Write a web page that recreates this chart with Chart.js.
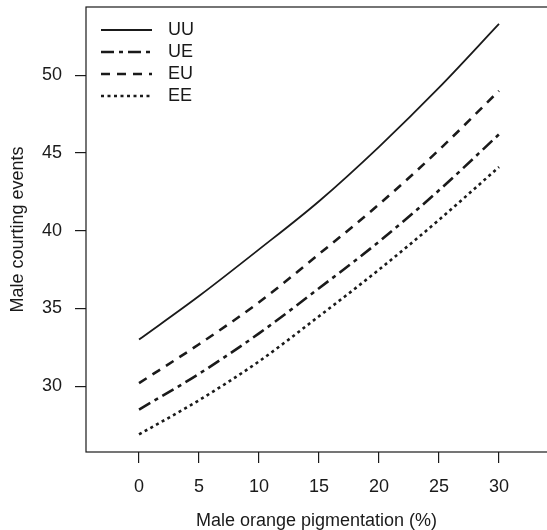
<!DOCTYPE html>
<html>
<head>
<meta charset="utf-8">
<script src="https://cdn.jsdelivr.net/npm/chart.js@4/dist/chart.umd.min.js"></script>
<style>
  html, body { margin: 0; padding: 0; background: #fff; overflow: hidden; }
</style>
</head>
<body>
<canvas id="chartContext" width="547" height="530"></canvas>
<script>
// Values
const pigmentation = [0, 5, 10, 15, 20, 25, 30];
const courtingUU = [33.0, 35.8, 38.8, 41.9, 45.4, 49.2, 53.3];
const courtingUE = [28.5, 30.8, 33.4, 36.3, 39.3, 42.6, 46.2];
const courtingEU = [30.2, 32.7, 35.4, 38.5, 41.7, 45.2, 49.0];
const courtingEE = [26.9, 29.1, 31.6, 34.5, 37.5, 40.7, 44.1];

const seriesLabels = ["UU", "UE", "EU", "EE"];
const xTicks = [0, 5, 10, 15, 20, 25, 30];
const yTicks = [30, 35, 40, 45, 50];

const ink = "#1a1a1a";
const fontFamily = "'Liberation Sans', Arial, sans-serif";

// Turn x / y arrays into point objects for a linear x scale
function toPoints(ys) {
    return pigmentation.map((x, i) => ({ x: x, y: ys[i] }));
}

// Line look for each series (solid, dot-dash, dashed, dotted)
const styles = [
    { width: 1.8, dash: [] },
    { width: 2.6, dash: [13, 5, 4, 5] },
    { width: 2.6, dash: [9, 7] },
    { width: 2.6, dash: [3, 3.5] },
];

const allSeries = [courtingUU, courtingUE, courtingEU, courtingEE];

const datasets = allSeries.map((ys, i) => ({
    label: seriesLabels[i],
    data: toPoints(ys),
    borderColor: ink,
    borderWidth: styles[i].width,
    borderDash: styles[i].dash,
    borderCapStyle: "butt",
    pointRadius: 0,
    cubicInterpolationMode: "monotone",
    fill: false,
}));

// Box round the plot (right side falls off the canvas) and the legend inside it
const boxAndLegend = {
    id: "boxAndLegend",
    afterDraw(chart) {
        const { ctx, chartArea } = chart;
        ctx.save();
        ctx.strokeStyle = ink;
        ctx.lineWidth = 1.2;
        ctx.setLineDash([]);
        ctx.strokeRect(chartArea.left, chartArea.top, chartArea.right - chartArea.left + 20, chartArea.bottom - chartArea.top);

        const rows = [30, 52, 74, 96];
        ctx.font = "18px " + fontFamily;
        ctx.textBaseline = "middle";
        ctx.fillStyle = ink;
        chart.data.datasets.forEach((ds, i) => {
            const y = rows[i];
            ctx.beginPath();
            ctx.lineWidth = ds.borderWidth;
            ctx.setLineDash(ds.borderDash);
            ctx.lineCap = "butt";
            ctx.moveTo(chartArea.left + 15, y);
            ctx.lineTo(chartArea.left + 66, y);
            ctx.stroke();
            ctx.setLineDash([]);
            ctx.fillText(ds.label, chartArea.left + 82, y);
        });
        ctx.restore();
    },
};

new Chart(document.getElementById("chartContext"), {
    type: "line",
    data: { datasets: datasets },
    plugins: [boxAndLegend],
    options: {
        responsive: false,
        animation: false,
        layout: { padding: { top: 7, right: 0, bottom: 0, left: 0 } },
        plugins: {
            legend: { display: false },
            tooltip: { enabled: false },
        },
        scales: {
            x: {
                type: "linear",
                min: -4.42,
                max: 34.0,
                afterBuildTicks: (axis) => { axis.ticks = xTicks.map(v => ({ value: v })); },
                afterFit: (axis) => { axis.height = 78; axis.paddingLeft = 0; axis.paddingRight = 0; },
                border: { display: false },
                grid: { display: true, drawOnChartArea: false, drawTicks: true, tickLength: 11, color: ink, lineWidth: 1.2 },
                ticks: { color: ink, padding: 13, font: { family: fontFamily, size: 18 }, maxRotation: 0 },
                title: {
                    display: true,
                    text: "Male orange pigmentation (%)",
                    color: ink,
                    font: { family: fontFamily, size: 18, lineHeight: 1.0 },
                    padding: { top: 0, bottom: 0 },
                },
            },
            y: {
                min: 25.77,
                max: 54.39,
                afterBuildTicks: (axis) => { axis.ticks = yTicks.map(v => ({ value: v })); },
                afterFit: (axis) => { axis.width = 86; axis.paddingTop = 0; axis.paddingBottom = 0; },
                border: { display: false },
                grid: { display: true, drawOnChartArea: false, drawTicks: true, tickLength: 11, color: ink, lineWidth: 1.2 },
                ticks: { color: ink, padding: 13, font: { family: fontFamily, size: 18 } },
                title: {
                    display: true,
                    text: "Male courting events",
                    color: ink,
                    font: { family: fontFamily, size: 18, lineHeight: 1.0 },
                    padding: { top: 9, bottom: 0 },
                },
            },
        },
    },
});
</script>
</body>
</html>
